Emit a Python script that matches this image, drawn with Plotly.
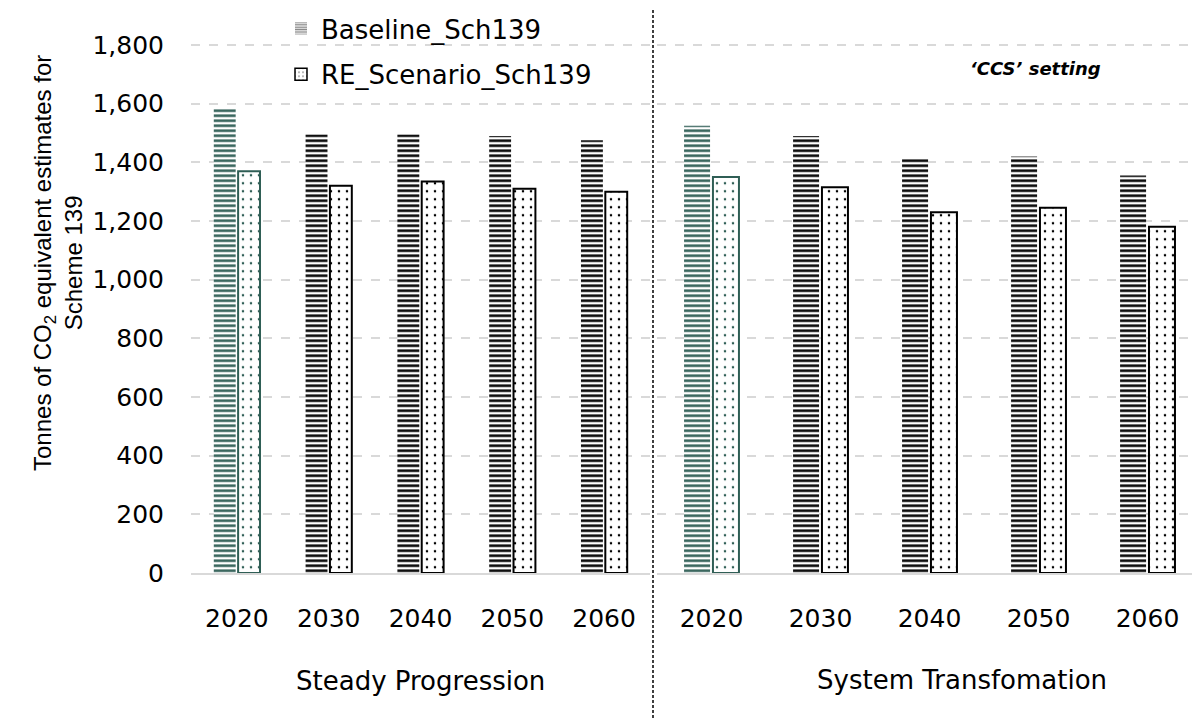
import plotly.graph_objects as go

years = ["2020", "2030", "2040", "2050", "2060"]
sp_baseline = [1585, 1495, 1495, 1490, 1475]
sp_re = [1370, 1320, 1335, 1310, 1300]
st_baseline = [1525, 1490, 1415, 1420, 1355]
st_re = [1350, 1315, 1230, 1245, 1180]
groups = ["Steady Progression", "System Transfomation"]
y_ticks = [0, 200, 400, 600, 800, 1000, 1200, 1400, 1600, 1800]

TEAL = "#2F5E55"
BLACK = "#000000"
bar_colors = [TEAL, BLACK, BLACK, BLACK, BLACK]
W, H = 1192, 720
FONT = "DejaVu Sans"
Y_MAX = 1806

def px(x):
    return x / W

def py(y):
    return 1 - y / H

fig = go.Figure()

for xa, ya, base, re in [("x", "y", sp_baseline, sp_re), ("x2", "y2", st_baseline, st_re)]:
    fig.add_trace(go.Bar(
        x=years, y=base, xaxis=xa, yaxis=ya, showlegend=False,
        name="Baseline_Sch139",
        marker=dict(color="white", line=dict(width=0),
                    pattern=dict(shape="-", fgcolor=bar_colors, bgcolor="white",
                                 size=5, solidity=0.5, fillmode="replace")),
    ))
    fig.add_trace(go.Bar(
        x=years, y=re, xaxis=xa, yaxis=ya, showlegend=False,
        name="RE_Scenario_Sch139",
        marker=dict(color="white", line=dict(width=2, color=bar_colors),
                    pattern=dict(shape=".", fgcolor=bar_colors, bgcolor="white",
                                 size=8, solidity=0.08, fillmode="replace")),
    ))

# legend-only traces on a hidden axis pair
fig.add_trace(go.Bar(
    x=[None], y=[None], xaxis="x3", yaxis="y3", name="Baseline_Sch139",
    legendgroup="a",
    marker=dict(color="white", line=dict(width=0),
                pattern=dict(shape="-", fgcolor=BLACK, bgcolor="white", size=3, solidity=0.55)),
))
fig.add_trace(go.Bar(
    x=[None], y=[None], xaxis="x3", yaxis="y3", name="RE_Scenario_Sch139",
    legendgroup="b",
    marker=dict(color="white", line=dict(width=1.5, color=BLACK),
                pattern=dict(shape=".", fgcolor=BLACK, bgcolor="white", size=5, solidity=0.15)),
))

ydom = [py(573), py(43.24)]
grid = dict(showgrid=True, gridcolor="#D9D9D9", griddash="dash", gridwidth=1.5)

fig.update_layout(
    width=W, height=H, autosize=False,
    margin=dict(l=0, r=0, t=0, b=0, pad=0),
    paper_bgcolor="white", plot_bgcolor="white",
    barmode="group", bargap=0.47, bargroupgap=0.1,
    font=dict(family=FONT, size=25, color="black"),
    xaxis=dict(domain=[px(191), px(650)], range=[-0.5, 4.5], type="category",
               showline=True, linecolor="#D9D9D9", linewidth=2, ticks="",
               ticklabelstandoff=22, tickfont=dict(size=25), automargin=False),
    xaxis2=dict(domain=[px(657), 1], range=[-0.5, 4.408], type="category",
                showline=True, linecolor="#D9D9D9", linewidth=2, ticks="",
                ticklabelstandoff=22, tickfont=dict(size=25), automargin=False),
    yaxis=dict(domain=ydom, range=[0, Y_MAX], tickvals=y_ticks, tickformat=",",
               ticks="", ticklabelstandoff=26, zeroline=False, tickfont=dict(size=25),
               automargin=False, **grid),
    yaxis2=dict(domain=ydom, range=[0, Y_MAX], tickvals=y_ticks, anchor="x2",
                showticklabels=False, ticks="", zeroline=False, automargin=False, **grid),
    xaxis3=dict(domain=[0, 0.01], visible=False, anchor="y3", automargin=False),
    yaxis3=dict(domain=[0, 0.01], visible=False, anchor="x3", automargin=False),
    legend=dict(x=px(281), y=py(5), xanchor="left", yanchor="top",
                bgcolor="rgba(0,0,0,0)", font=dict(size=26, family=FONT),
                itemwidth=30, tracegroupgap=9, traceorder="grouped"),
)

fig.add_annotation(
    text="Tonnes of CO<sub>2</sub> equivalent estimates for<br>Scheme 139",
    xref="paper", yref="paper", x=px(58), y=py(263), textangle=-90,
    xanchor="center", yanchor="middle",
    showarrow=False, font=dict(family="Liberation Sans", size=24),
)
fig.add_annotation(text=groups[0], xref="paper", yref="paper", x=px(420), y=py(681),
                   xanchor="center", yanchor="middle", showarrow=False, font=dict(size=26))
fig.add_annotation(text=groups[1], xref="paper", yref="paper", x=px(962), y=py(680),
                   xanchor="center", yanchor="middle", showarrow=False, font=dict(size=26))
fig.add_annotation(text="<b><i>‘CCS’ setting</i></b>", xref="paper", yref="paper",
                   x=px(1035), y=py(68), xanchor="center", yanchor="middle",
                   showarrow=False, font=dict(size=18))

fig.add_shape(type="line", xref="paper", yref="paper", x0=px(653), x1=px(653),
              y0=py(10), y1=0, line=dict(color="black", width=1.5, dash="3px,2px"))

fig.write_html("out.html", config={"displayModeBar": False},
               post_script="document.body.style.margin='0';document.body.style.overflow='hidden';")
